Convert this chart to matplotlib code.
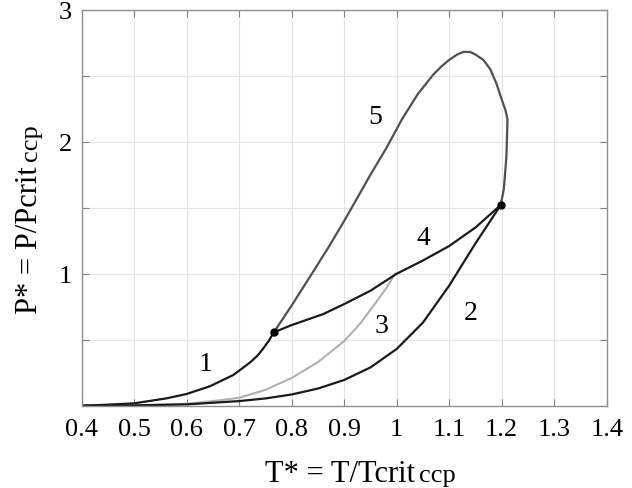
import matplotlib
matplotlib.use("Agg")
import matplotlib.pyplot as plt

plt.rcParams['font.family'] = ['Liberation Serif', 'DejaVu Serif']

# curves (T*, P*)
t1 = [0.40, 0.435, 0.50, 0.562, 0.60, 0.644, 0.689, 0.721, 0.735, 0.746, 0.756, 0.766]
p1 = [0.0, 0.005, 0.018, 0.056, 0.089, 0.147, 0.233, 0.329, 0.38, 0.435, 0.49, 0.556]

t2 = [0.40, 0.50, 0.60, 0.70, 0.75, 0.80, 0.85, 0.90, 0.95, 1.00, 1.05, 1.10, 1.15, 1.175, 1.198]
p2 = [0.0, 0.002, 0.01, 0.035, 0.055, 0.085, 0.13, 0.195, 0.29, 0.43, 0.63, 0.91, 1.23, 1.38, 1.52]

t3 = [0.40, 0.50, 0.60, 0.65, 0.70, 0.75, 0.80, 0.85, 0.90, 0.93, 0.96, 0.98, 0.997]
p3 = [0.0, 0.003, 0.015, 0.035, 0.06, 0.12, 0.21, 0.33, 0.49, 0.62, 0.78, 0.89, 1.0]

t4 = [0.766, 0.80, 0.86, 0.90, 0.95, 1.00, 1.05, 1.10, 1.15, 1.198]
p4 = [0.556, 0.611, 0.694, 0.77, 0.871, 1.0, 1.10, 1.21, 1.35, 1.52]

t5 = [0.766, 0.80, 0.84, 0.87, 0.90, 0.95, 0.98, 1.01, 1.04, 1.07, 1.085, 1.10, 1.115,
      1.127, 1.14, 1.15, 1.165, 1.178, 1.19, 1.20, 1.207, 1.211, 1.209, 1.204, 1.198]
p5 = [0.556, 0.76, 1.01, 1.20, 1.40, 1.75, 1.95, 2.17, 2.36, 2.51, 2.57, 2.62, 2.66,
      2.68, 2.68, 2.66, 2.62, 2.55, 2.44, 2.32, 2.24, 2.17, 1.89, 1.64, 1.52]

dot_t = [0.766, 1.198]
dot_p = [0.556, 1.52]

curve_labels = ['1', '2', '3', '4', '5']
label_t = [0.635, 1.14, 0.971, 1.051, 0.959]
label_p = [0.316, 0.707, 0.611, 1.275, 2.19]

xticks = [0.4, 0.5, 0.6, 0.7, 0.8, 0.9, 1.0, 1.1, 1.2, 1.3, 1.4]
xticklabels = ['0.4', '0.5', '0.6', '0.7', '0.8', '0.9', '1', '1.1', '1.2', '1.3', '1.4']
yticks = [0, 0.5, 1, 1.5, 2, 2.5, 3]
yticklabels = ['', '', '1', '', '2', '', '3']

fig = plt.figure(figsize=(6.32, 4.89), dpi=100)
ax = fig.add_axes([0.1293, 0.1683, 0.8307, 0.8098])

ax.plot(t3, p3, color='#b0b0b0', lw=1.5)
ax.plot(t2, p2, color='#1a1a1a', lw=1.6)
ax.plot(t1, p1, color='#1a1a1a', lw=1.6)
ax.plot(t4, p4, color='#1a1a1a', lw=1.6)
ax.plot(t5, p5, color='#505050', lw=1.6)
ax.plot(dot_t, dot_p, 'o', color='black', ms=5, zorder=5)

for s, x, y in zip(curve_labels, label_t, label_p):
    ax.text(x, y, s, fontsize=20, ha='center', va='center')

ax.set_xlim(0.4, 1.4)
ax.set_ylim(0, 3)
ax.set_xticks(xticks)
ax.set_xticklabels(xticklabels)
ax.set_yticks(yticks)
ax.set_yticklabels(yticklabels)
ax.tick_params(direction='in', length=5, width=0.8, color='#808080',
               top=True, right=True, labelsize=19)
ax.tick_params(axis='x', pad=9)
ax.tick_params(axis='y', pad=7)
ax.grid(True, color='#e4e4e4', lw=0.8)
ax.set_axisbelow(True)
for sp in ax.spines.values():
    sp.set_color('#909090')
    sp.set_linewidth(1.0)

# axis titles, with the small "ccp" tag after them
ax.text(0.635, -0.19, 'T* = T/Tcrit', transform=ax.transAxes, fontsize=22,
        ha='right', va='baseline')
ax.text(0.643, -0.19, 'ccp', transform=ax.transAxes, fontsize=19,
        ha='left', va='baseline')
ax.text(-0.0857, 0.606, 'P* = P/Pcrit', transform=ax.transAxes, fontsize=22,
        rotation=90, rotation_mode='anchor', ha='right', va='baseline')
ax.text(-0.0857, 0.621, 'ccp', transform=ax.transAxes, fontsize=19,
        rotation=90, rotation_mode='anchor', ha='left', va='baseline')

fig.savefig('out.png', dpi=100)
